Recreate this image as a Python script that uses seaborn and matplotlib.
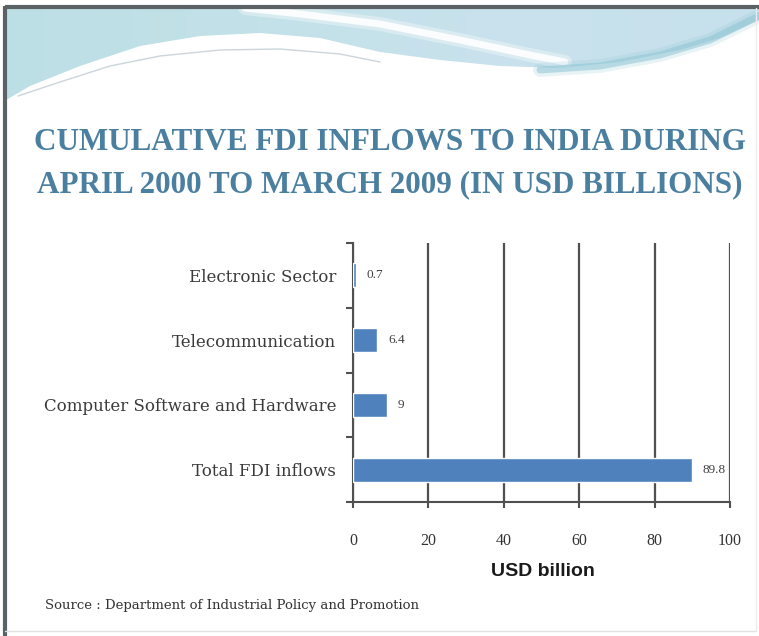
import matplotlib
matplotlib.use("Agg")
import matplotlib.pyplot as plt
import seaborn as sns
import numpy as np
import pandas as pd
from matplotlib.ticker import FixedLocator
from matplotlib.patches import Polygon
from matplotlib.colors import LinearSegmentedColormap

# Sector-wise cumulative FDI inflows, USD billion
categories = ["Electronic Sector", "Telecommunication",
              "Computer Software and Hardware", "Total FDI inflows"]
values = [0.7, 6.4, 9, 89.8]
x_ticks = [0, 20, 40, 60, 80, 100]
title_lines = ["CUMULATIVE FDI INFLOWS TO INDIA DURING",
               "APRIL 2000 TO MARCH 2009 (IN USD BILLIONS)"]
x_label = "USD billion"
source_note = "Source : Department of Industrial Policy and Promotion"

W, H = 759, 636
sns.set_theme(style="white")
fig = plt.figure(figsize=(W / 100, H / 100), dpi=100)
fig.patch.set_facecolor("white")

# ---- slide background: frame and wave banner (pixel coordinates) ----
bg = fig.add_axes([0, 0, 1, 1], zorder=0)
bg.set_xlim(0, W)
bg.set_ylim(H, 0)
bg.axis("off")

wave_x = [6, 30, 80, 140, 200, 260, 320, 380, 440, 500, 560, 620, 680, 720, 759]
wave_y = [100, 86, 66, 46, 36, 33, 38, 52, 60, 66, 68, 62, 50, 38, 20]
banner = Polygon(list(zip(wave_x, wave_y)) + [(W, 8), (6, 8)],
                 closed=True, facecolor="none", edgecolor="none")
bg.add_patch(banner)
banner_cmap = LinearSegmentedColormap.from_list(
    "banner", ["#bcdfe5", "#c3e1e8", "#c9e2ed", "#c6e0ec"])
grad = np.linspace(0, 1, 256)[None, :]
img = bg.imshow(grad, cmap=banner_cmap, extent=(6, W, 110, 8),
                aspect="auto", interpolation="bicubic", zorder=1)
img.set_clip_path(banner)

# bright streak across the banner
streak_x = [245, 300, 380, 460, 530, 565]
streak_y = [8, 14, 24, 40, 55, 62]
bg.plot(streak_x, streak_y, color="white", lw=5, solid_capstyle="round",
        alpha=0.9, zorder=2)
bg.plot(streak_x, streak_y, color="white", lw=10, solid_capstyle="round",
        alpha=0.35, zorder=2)
# teal rim on the right
rim_x = [540, 600, 660, 710, 759]
rim_y = [70, 66, 55, 40, 16]
bg.plot(rim_x, rim_y, color="#8fc5d4", lw=5, alpha=0.55, zorder=2)
bg.plot(rim_x, rim_y, color="#8fc5d4", lw=10, alpha=0.2, zorder=2)
# thin grey line under the left swoop
bg.plot([18, 60, 110, 160, 220, 280, 340, 380],
        [96, 82, 66, 56, 50, 49, 54, 62], color="#cbd5da", lw=1, zorder=2)

# frame
bg.plot([5, W], [6.5, 6.5], color="#5b6266", lw=3, solid_capstyle="butt", zorder=3)
bg.plot([5, 5], [6, H], color="#5b6266", lw=3, solid_capstyle="butt", zorder=3)
bg.plot([5, W - 3], [631, 631], color="#e2e2e2", lw=1, zorder=3)
bg.plot([W - 3, W - 3], [8, 631], color="#ececec", lw=1, zorder=3)

# ---- chart ----
ax = fig.add_axes([353 / W, 1 - 502 / H, 377 / W, 259 / H], zorder=1)
ax.patch.set_alpha(0)
df = pd.DataFrame({"sector": categories, "usd": values})
sns.barplot(data=df, x="usd", y="sector", orient="h", color="#4F81BD",
            saturation=1, width=0.37, ax=ax, zorder=3)

ax.set_xlim(0, 100)
ax.set_ylim(3.5, -0.5)
ax.set_xlabel("")
ax.set_ylabel("")

grid_col = "#505050"
ax.set_xticks(x_ticks)
ax.set_xticklabels([str(t) for t in x_ticks], family="Liberation Serif",
                   fontsize=11.5, color="#333333")
ax.xaxis.grid(True, color=grid_col, lw=1.6, zorder=1)
ax.yaxis.grid(False)
ax.tick_params(axis="x", which="major", bottom=True, length=4, width=1.5,
               direction="out", color=grid_col, pad=18)

ax.yaxis.set_minor_locator(FixedLocator([-0.5, 0.5, 1.5, 2.5, 3.5]))
ax.tick_params(axis="y", which="minor", left=True, length=5, width=1.5,
               direction="out", color=grid_col)
ax.tick_params(axis="y", which="major", left=False, length=0, pad=12)
for lbl in ax.get_yticklabels():
    lbl.set_family("DejaVu Serif")
    lbl.set_fontsize(12)
    lbl.set_color("#3a3a3a")

for side in ("top", "right"):
    ax.spines[side].set_visible(False)
for side in ("left", "bottom"):
    ax.spines[side].set_color(grid_col)
    ax.spines[side].set_linewidth(1.5)

ax.bar_label(ax.containers[0], labels=[f"{v:g}" for v in values], padding=8,
             fontsize=9.5, color="#404040", family="Liberation Serif")

# ---- texts ----
title_col = "#4A7FA0"
fig.text(390 / W, 1 - 142 / H, title_lines[0], ha="center", va="center",
         fontsize=22.4, fontweight="bold", family="Liberation Serif",
         color=title_col)
fig.text(390 / W, 1 - 185 / H, title_lines[1], ha="center", va="center",
         fontsize=22.4, fontweight="bold", family="Liberation Serif",
         color=title_col)
fig.text(543 / W, 1 - 571 / H, x_label, ha="center", va="center",
         fontsize=14, fontweight="bold", family="Liberation Sans",
         color="#1a1a1a")
fig.text(45 / W, 1 - 605 / H, source_note, ha="left", va="center",
         fontsize=9.5, family="DejaVu Serif", color="#333333")

fig.savefig("out.png", dpi=100)
